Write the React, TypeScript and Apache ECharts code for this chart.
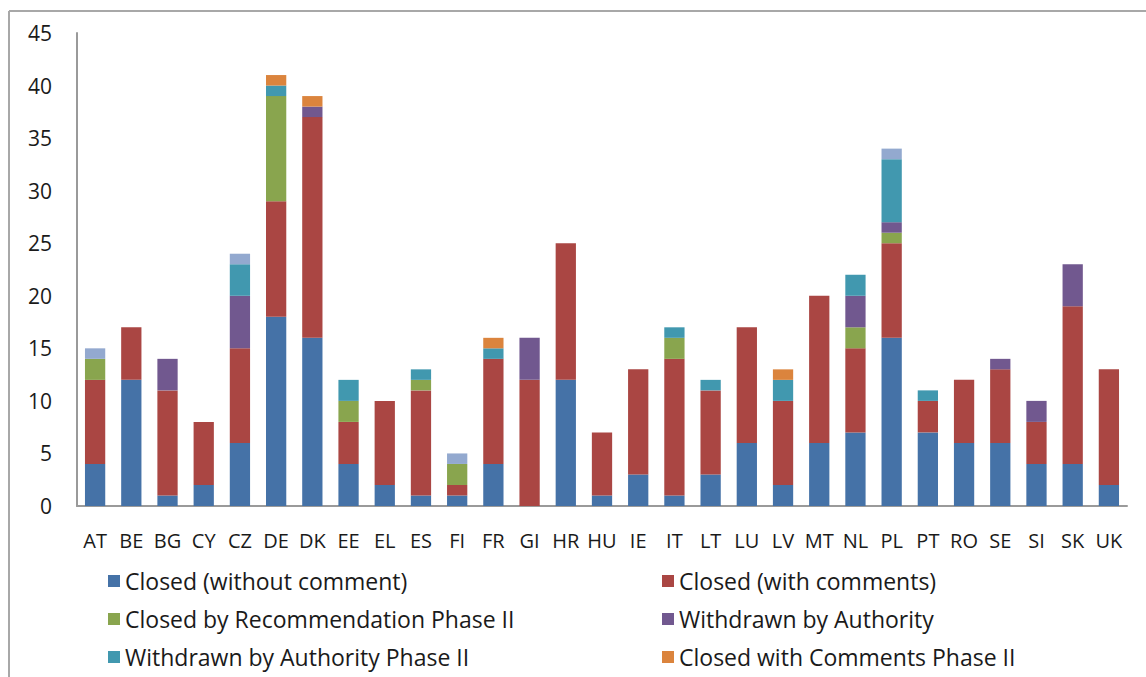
import React, { useEffect, useRef } from "react";
import * as echarts from "echarts";

const categories = ["AT","BE","BG","CY","CZ","DE","DK","EE","EL","ES","FI","FR","GI","HR","HU","IE","IT","LT","LU","LV","MT","NL","PL","PT","RO","SE","SI","SK","UK"];

const closedWithoutComment = [4,12,1,2,6,18,16,4,2,1,1,4,0,12,1,3,1,3,6,2,6,7,16,7,6,6,4,4,2];
const closedWithComments   = [8,5,10,6,9,11,21,4,8,10,1,10,12,13,6,10,13,8,11,8,14,8,9,3,6,7,4,15,11];
const closedByRecPhase2    = [2,0,0,0,0,10,0,2,0,1,2,0,0,0,0,0,2,0,0,0,0,2,1,0,0,0,0,0,0];
const withdrawnByAuthority = [0,0,3,0,5,0,1,0,0,0,0,0,4,0,0,0,0,0,0,0,0,3,1,0,0,1,2,4,0];
const withdrawnPhase2      = [0,0,0,0,3,1,0,2,0,1,0,1,0,0,0,0,1,1,0,2,0,2,6,1,0,0,0,0,0];
const closedCommentsPhase2 = [0,0,0,0,0,1,1,0,0,0,0,1,0,0,0,0,0,0,0,1,0,0,0,0,0,0,0,0,0];
const other                = [1,0,0,0,1,0,0,0,0,0,1,0,0,0,0,0,0,0,0,0,0,0,1,0,0,0,0,0,0];

const seriesDefs = [
  { name: "Closed (without comment)", data: closedWithoutComment, color: "#4572A7" },
  { name: "Closed (with comments)", data: closedWithComments, color: "#AA4643" },
  { name: "Closed by Recommendation Phase II", data: closedByRecPhase2, color: "#89A54E" },
  { name: "Withdrawn by Authority", data: withdrawnByAuthority, color: "#71588F" },
  { name: "Withdrawn by Authority Phase II", data: withdrawnPhase2, color: "#4198AF" },
  { name: "Closed with Comments Phase II", data: closedCommentsPhase2, color: "#DB843D" },
  { name: "Other", data: other, color: "#93A9CF" },
];

const FONT = "'Open Sans', 'Liberation Sans', sans-serif";

export default function App() {
  const ref = useRef<HTMLDivElement>(null);
  useEffect(() => {
    if (!ref.current) return;
    const chart = echarts.init(ref.current, null, { renderer: "svg" });
    const legendCommon = {
      orient: "vertical",
      icon: "rect",
      itemWidth: 12,
      itemHeight: 12,
      itemGap: 14,
      textStyle: { fontSize: 23, lineHeight: 24, color: "#1a1a1a", fontFamily: FONT, padding: [0, 0, 0, 0] },
      selectedMode: false,
    };
    chart.setOption({
      animation: false,
      backgroundColor: "#fff",
      textStyle: { fontFamily: FONT },
      grid: { left: 77, right: 19, top: 33, bottom: 171, containLabel: false },
      legend: [
        { ...legendCommon, left: 103, top: 564, data: [seriesDefs[0].name, seriesDefs[2].name, seriesDefs[4].name] },
        { ...legendCommon, left: 657, top: 564, data: [seriesDefs[1].name, seriesDefs[3].name, seriesDefs[5].name] },
      ],
      xAxis: {
        type: "category",
        data: categories,
        axisLine: { lineStyle: { color: "#9a9a9a", width: 2 } },
        axisTick: { show: false },
        axisLabel: { interval: 0, fontSize: 20, color: "#1a1a1a", margin: 24, fontFamily: FONT },
      },
      yAxis: {
        type: "value",
        min: 0,
        max: 45,
        interval: 5,
        splitLine: { show: false },
        axisLine: { show: true, lineStyle: { color: "#9a9a9a", width: 2 } },
        axisTick: { show: false },
        axisLabel: { fontSize: 21, color: "#1a1a1a", margin: 25, fontFamily: FONT },
      },
      series: seriesDefs.map((s) => ({
        name: s.name,
        type: "bar",
        stack: "total",
        barWidth: "56%",
        data: s.data,
        itemStyle: { color: s.color },
      })),
      graphic: [
        { type: "line", shape: { x1: 9, y1: 11, x2: 1146, y2: 11 }, style: { stroke: "#a8a8a8", lineWidth: 2 } },
        { type: "line", shape: { x1: 9, y1: 11, x2: 9, y2: 677 }, style: { stroke: "#a8a8a8", lineWidth: 2 } },
      ],
    });
    return () => chart.dispose();
  }, []);
  return <div ref={ref} style={{ width: 1146, height: 677, position: "absolute", left: 0, top: 0 }} />;
}
